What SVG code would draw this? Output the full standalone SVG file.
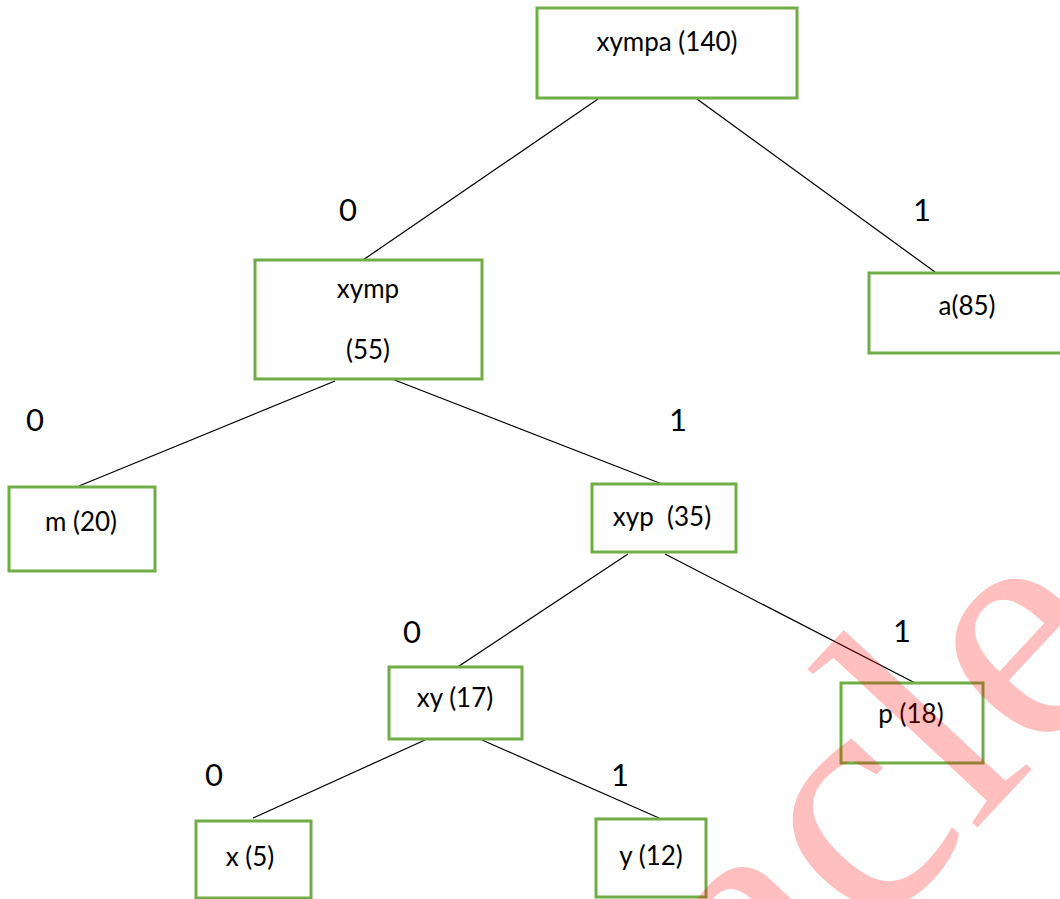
<svg xmlns="http://www.w3.org/2000/svg" width="1060" height="899" viewBox="0 0 1060 899">
  <style>
    .box { fill: #ffffff; stroke: #70ad47; stroke-width: 3; }
    .edge { stroke: #000000; stroke-width: 1.2; fill: none; }
    .lbl { font-family: Lato, "Open Sans", "Liberation Sans", sans-serif; font-size: 26px; fill: #000000; text-anchor: middle; white-space: pre; }
    .bit { font-family: Lato, "Open Sans", "Liberation Sans", sans-serif; font-size: 31px; fill: #000000; text-anchor: middle; }
    .mark { font-family: "Liberation Serif", serif; font-size: 335px; fill: #ff0000; fill-opacity: 0.25; }
  </style>

  <!-- edges of the code tree -->
  <g id="connectors">
    <line class="edge" x1="598" y1="99" x2="363" y2="260"/>
    <line class="edge" x1="697" y1="99" x2="935" y2="272"/>
    <line class="edge" x1="335" y1="381" x2="79" y2="486"/>
    <line class="edge" x1="392" y1="379" x2="662" y2="484"/>
    <line class="edge" x1="628" y1="554" x2="450" y2="672"/>
    <line class="edge" x1="665" y1="554" x2="919" y2="685"/>
    <line class="edge" x1="425" y1="740" x2="253" y2="818"/>
    <line class="edge" x1="482" y1="740" x2="659" y2="818"/>
  </g>

  <!-- branch bits -->
  <g id="bits">
    <text class="bit" x="348" y="221">0</text>
    <text class="bit" x="922" y="221">1</text>
    <text class="bit" x="35" y="431">0</text>
    <text class="bit" x="678" y="431">1</text>
    <text class="bit" x="412" y="643">0</text>
    <text class="bit" x="902" y="642">1</text>
    <text class="bit" x="214" y="786">0</text>
    <text class="bit" x="620" y="786">1</text>
  </g>

  <g id="n-xympa">
    <rect class="box" x="537" y="8" width="260" height="90"/>
    <text class="lbl" x="667" y="51">xympa (140)</text>
  </g>
  <g id="n-xymp">
    <rect class="box" x="255" y="260" width="227" height="119"/>
    <text class="lbl" x="368" y="298">xymp</text>
    <text class="lbl" x="368" y="359">(55)</text>
  </g>
  <g id="n-a">
    <rect class="box" x="869" y="273" width="200" height="80"/>
    <text class="lbl" x="967" y="315">a(85)</text>
  </g>
  <g id="n-m">
    <rect class="box" x="9" y="487" width="146" height="84"/>
    <text class="lbl" x="81" y="531">m (20)</text>
  </g>
  <g id="n-xyp">
    <rect class="box" x="592" y="484" width="144" height="68"/>
    <text class="lbl" x="662" y="526">xyp  (35)</text>
  </g>
  <g id="n-xy">
    <rect class="box" x="389" y="667" width="133" height="72"/>
    <text class="lbl" x="455" y="707">xy (17)</text>
  </g>
  <g id="n-p">
    <rect class="box" x="841" y="683" width="142" height="80"/>
    <text class="lbl" x="911" y="723">p (18)</text>
  </g>
  <g id="n-x">
    <rect class="box" x="196" y="821" width="115" height="77"/>
    <text class="lbl" x="250" y="866">x (5)</text>
  </g>
  <g id="n-y">
    <rect class="box" x="596" y="819" width="110" height="78"/>
    <text class="lbl" x="651" y="865">y (12)</text>
  </g>

  <!-- translucent watermark laid over the drawing -->
  <text class="mark" transform="translate(770 1050) rotate(-47)">acle</text>
</svg>
